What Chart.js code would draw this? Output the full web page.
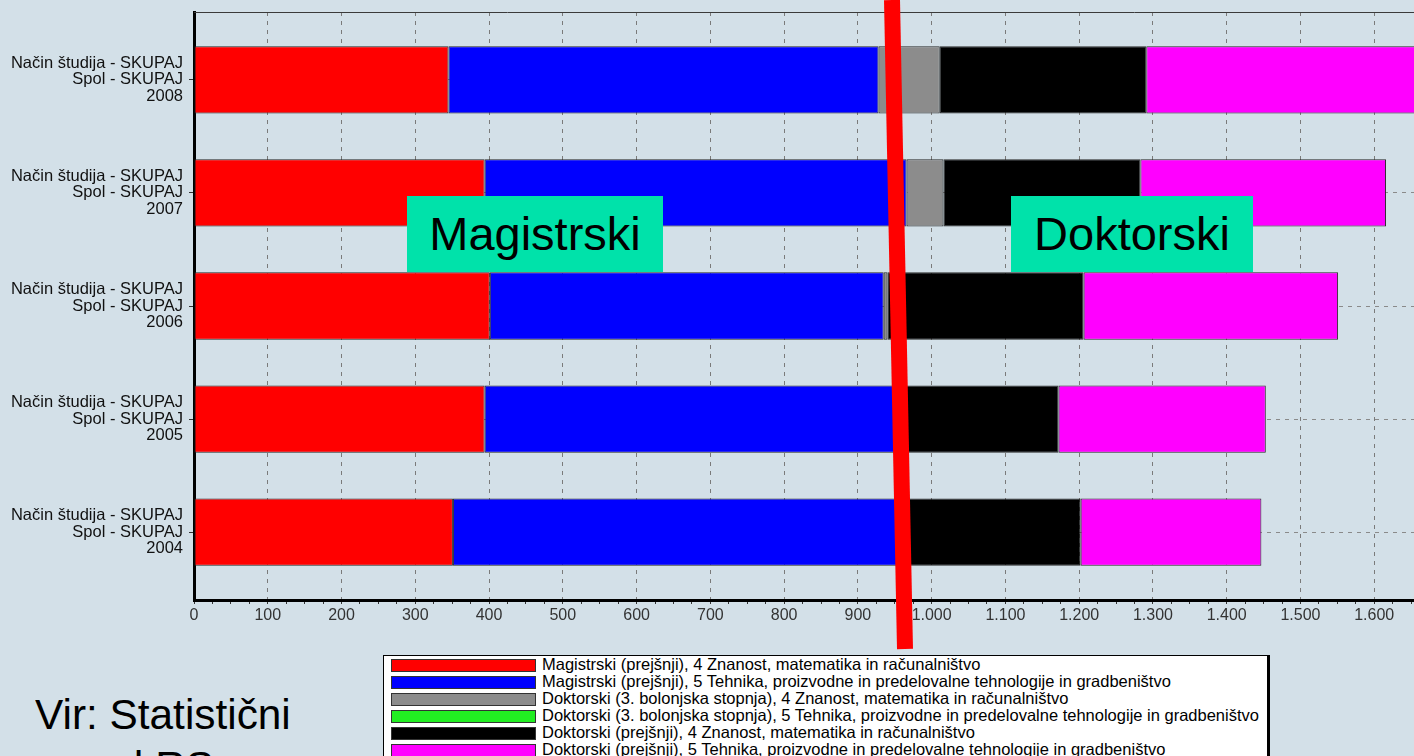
<!DOCTYPE html>
<html>
<head>
<meta charset="utf-8">
<script src="https://cdn.jsdelivr.net/npm/chart.js@4"></script>
<style>
  html, body { margin: 0; padding: 0; }
  body {
    width: 1414px; height: 756px; overflow: hidden; position: relative;
    background: #d3e0e8; font-family: 'Liberation Sans', Arial, sans-serif;
  }
  #chart { position: absolute; left: 0; top: 0; }
  .tag {
    position: absolute; top: 196px; height: 76px; background: #00e2aa;
    color: #000; font-size: 47px; line-height: 76px; text-align: center;
  }
  #legend {
    position: absolute; left: 383px; top: 655px; width: 883px; height: 130px;
    background: #fff; border: 1px solid #000; border-right-width: 3px;
  }
  .leg-row { position: absolute; left: 7px; height: 17px; white-space: nowrap; }
  .leg-sw {
    position: absolute; left: 0; top: 2px; width: 143px; height: 11px;
    border: 1px solid #333;
  }
  .leg-tx { position: absolute; left: 151px; top: -1px; font-size: 16.5px; line-height: 17px; color: #000; }
  #source {
    position: absolute; left: 35px; top: 688px; font-size: 43px; line-height: 52px;
    color: #000; transform: scaleX(0.985); transform-origin: left top; white-space: nowrap;
  }
  #slash { position: absolute; left: 0; top: 0; }
</style>
</head>
<body>
<canvas id="chart" width="1450" height="630"></canvas>
<div class="tag" style="left:407px;width:256px">Magistrski</div>
<div class="tag" style="left:1011px;width:242px">Doktorski</div>
<div id="legend"></div>
<div id="source">Vir: Statistični<br><span style="margin-left:24px">urad RS</span></div>
<svg id="slash" width="1414" height="756">
  <line x1="892" y1="0" x2="905" y2="649" stroke="#ff0000" stroke-width="16"/>
</svg>
<script>
// ============================================================
// DATA (top row first)
// ============================================================

const years = ['2008', '2007', '2006', '2005', '2004'];
const rowLabel = ['Način študija - SKUPAJ', 'Spol - SKUPAJ'];

const seriesNames = [
  'Magistrski (prejšnji), 4 Znanost, matematika in računalništvo',
  'Magistrski (prejšnji), 5 Tehnika, proizvodne in predelovalne tehnologije in gradbeništvo',
  'Doktorski (3. bolonjska stopnja), 4 Znanost, matematika in računalništvo',
  'Doktorski (3. bolonjska stopnja), 5 Tehnika, proizvodne in predelovalne tehnologije in gradbeništvo',
  'Doktorski (prejšnji), 4 Znanost, matematika in računalništvo',
  'Doktorski (prejšnji), 5 Tehnika, proizvodne in predelovalne tehnologije in gradbeništvo'
];
const seriesColors = ['#ff0000', '#0000ff', '#8c8c8c', '#22ee22', '#000000', '#ff00ff'];

const magZnanost   = [345, 394, 401, 394, 351];
const magTehnika   = [583, 572, 534, 562, 608];
const dokBolZnan   = [83, 50, 5, 0, 0];
const dokBolTeh    = [0, 0, 0, 0, 0];
const dokPrejZnan  = [280, 267, 266, 216, 243];
const dokPrejTeh   = [380, 333, 345, 281, 245];

const seriesValues = [magZnanost, magTehnika, dokBolZnan, dokBolTeh, dokPrejZnan, dokPrejTeh];

const xMax = 1700;
const xTickStep = 25;
const xLabelStep = 100;

// ============================================================
// UTILITIES
// ============================================================

function fmtThousands(v) {
  if (v < 1000) return String(v);
  return Math.floor(v / 1000) + '.' + String(v % 1000).padStart(3, '0');
}

const topBorder = {
  id: 'topBorder',
  afterDraw(chart) {
    const { ctx, chartArea } = chart;
    ctx.save();
    ctx.strokeStyle = '#3a3a3a';
    ctx.lineWidth = 1;
    ctx.beginPath();
    ctx.moveTo(chartArea.left, chartArea.top + 0.5);
    ctx.lineTo(chartArea.right, chartArea.top + 0.5);
    ctx.stroke();
    ctx.restore();
  }
};

// ============================================================
// CHART
// ============================================================

Chart.defaults.font.family = "'Liberation Sans', Arial, sans-serif";
Chart.defaults.color = '#000';

const chart = new Chart(document.getElementById('chart'), {
  type: 'bar',
  data: {
    datasets: seriesNames.map((name, i) => ({
      label: name,
      data: seriesValues[i].map((v, j) => ({ x: v, y: j })),
      backgroundColor: seriesColors[i],
      borderColor: '#2a2a2a',
      borderWidth: 1,
      borderSkipped: false,
      categoryPercentage: 1,
      barPercentage: 0.595
    }))
  },
  options: {
    indexAxis: 'y',
    responsive: false,
    animation: false,
    devicePixelRatio: 1,
    layout: { padding: { top: 12, left: 0, right: 0, bottom: 0 } },
    plugins: { legend: { display: false }, tooltip: { enabled: false } },
    scales: {
      x: {
        type: 'linear',
        stacked: true,
        min: 0,
        max: xMax,
        afterFit: s => { s.height = 30; },
        ticks: {
          stepSize: xTickStep,
          autoSkip: false,
          maxRotation: 0,
          padding: 2,
          color: '#333',
          font: { size: 16 },
          callback: v => (v % xLabelStep === 0 && v < xMax ? fmtThousands(v) : '')
        },
        grid: {
          color: c => (c.tick && c.tick.value % xLabelStep === 0 ? '#7a7a7a' : 'rgba(0,0,0,0)'),
          lineWidth: 1,
          tickColor: '#333',
          tickWidth: 1,
          tickLength: 4
        },
        border: { display: true, color: '#000', width: 3, dash: [4, 5] }
      },
      y: {
        type: 'linear',
        stacked: true,
        reverse: true,
        offset: false,
        min: -0.6,
        max: 4.6,
        afterFit: s => { s.width = 194; s.paddingTop = 0; s.paddingBottom = 0; },
        afterBuildTicks: s => { s.ticks = s.ticks.filter(t => Number.isInteger(t.value)); },
        ticks: {
          stepSize: 1,
          padding: 6,
          color: '#111',
          font: { size: 16.5, lineHeight: 1.0 },
          callback: v => [rowLabel[0], rowLabel[1], years[v]]
        },
        grid: {
          offset: false,
          color: '#8a8a8a',
          lineWidth: 1,
          tickColor: '#333',
          tickWidth: 1,
          tickLength: 5
        },
        border: { display: true, color: '#000', width: 3, dash: [4, 5] }
      }
    }
  },
  plugins: [topBorder]
});

// ============================================================
// LEGEND (built from the chart's datasets)
// ============================================================

const legend = document.getElementById('legend');
legend.innerHTML = chart.data.datasets.map((ds, i) => `
  <div class="leg-row" style="top:${1 + i * 17}px">
    <div class="leg-sw" style="background:${ds.backgroundColor}"></div>
    <div class="leg-tx">${ds.label}</div>
  </div>`).join('');
</script>
</body>
</html>
